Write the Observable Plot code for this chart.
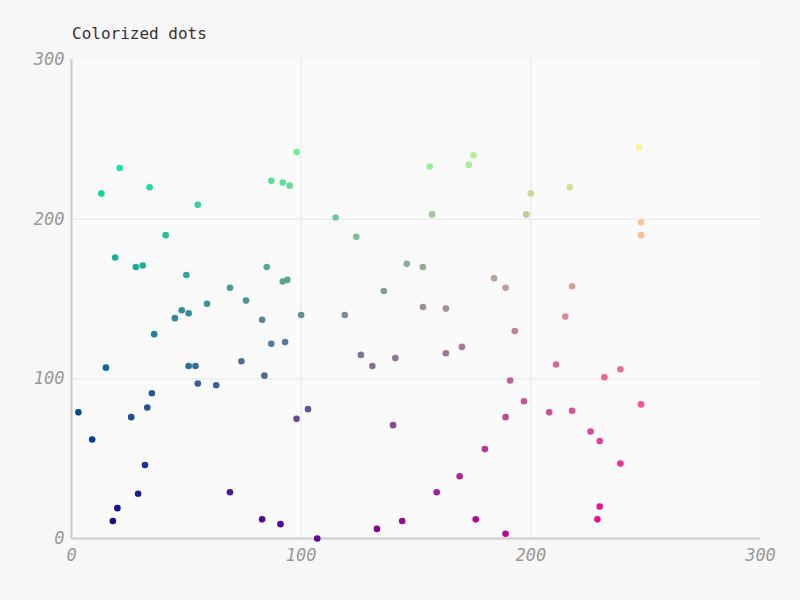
<!DOCTYPE html>
<html>
<head>
<meta charset="utf-8">
<script src="https://cdn.jsdelivr.net/npm/d3@7"></script>
<script src="https://cdn.jsdelivr.net/npm/@observablehq/plot@0.6"></script>
<style>
  html, body { margin: 0; padding: 0; background: #f7f7f7; width: 800px; height: 600px; overflow: hidden; }
  #title { height: 50px; box-sizing: border-box; padding: 24px 0 0 72px; font-family: "DejaVu Sans Mono", monospace; font-size: 16px; color: #333; line-height: 20px; }
  svg { display: block; }
</style>
</head>
<body>
<div id="title">Colorized dots</div>
<div id="chart"></div>
<script>
const xs = [3,9,15,13,21,19,18,20,26,28,31,29,32,33,35,34,36,41,45,48,50,51,51,54,55,55,59,63,69,69,74,76,83,83,84,85,87,87,91,92,92,94,93,95,98,98,100,103,107,
  115,124,156,157,173,175,146,153,136,119,153,163,184,189,200,198,217,247,248,248,218,215,193,126,131,141,163,170,211,232,239,191,140,197,189,208,218,226,230,239,248,180,169,159,176,189,230,229,144,133];
const ys = [79,62,107,216,232,176,11,19,76,170,171,28,46,82,91,220,128,190,138,143,165,141,108,108,97,209,147,96,157,29,111,149,137,12,102,170,224,122,9,223,161,162,123,221,75,242,140,81,0,
  201,189,233,203,234,240,172,170,155,140,145,144,163,157,216,203,220,245,198,190,158,139,130,115,108,113,116,120,109,101,106,99,71,86,76,79,80,67,61,47,84,56,39,29,12,3,20,12,11,6];
const xTicks = [0,100,200,300];
const yTicks = [0,100,200,300];
const blue = 150;

const data = xs.map((x, i) => ({x, y: ys[i]}));

const chart = Plot.plot({
  width: 800,
  height: 550,
  marginTop: 9,
  marginLeft: 71,
  marginRight: 40,
  marginBottom: 62,
  style: { background: "transparent", fontFamily: "'DejaVu Sans Mono', monospace", fontSize: "17px", color: "#999", overflow: "visible" },
  x: { domain: [0, 300], ticks: xTicks, tickSize: 0, label: null, grid: false },
  y: { domain: [0, 300], ticks: yTicks, tickSize: 0, label: null, grid: false },
  marks: [
    Plot.frame({ fill: "#fafafa", stroke: "none" }),
    Plot.gridX(xTicks.filter(d => d > 0 && d < 300), { stroke: "#e6e6e6", strokeOpacity: 1, strokeWidth: 1 }),
    Plot.gridY(yTicks.filter(d => d > 0 && d < 300), { stroke: "#e6e6e6", strokeOpacity: 1, strokeWidth: 1 }),
    Plot.axisX(xTicks, { tickSize: 0, tickPadding: 10, fill: "#999", fontStyle: "oblique", fontSize: 17, label: null }),
    Plot.axisY(yTicks, { tickSize: 0, tickPadding: 7, fill: "#999", fontStyle: "oblique", fontSize: 17, label: null }),
    Plot.ruleY([0], { stroke: "#ccc", strokeWidth: 2 }),
    Plot.ruleX([0], { stroke: "#ccc", strokeWidth: 2 }),
    Plot.dot(data, { x: "x", y: "y", r: 3.3, fill: d => `rgb(${d.x},${d.y},${blue})`, stroke: "none" })
  ]
});
document.getElementById("chart").appendChild(chart);
</script>
</body>
</html>
